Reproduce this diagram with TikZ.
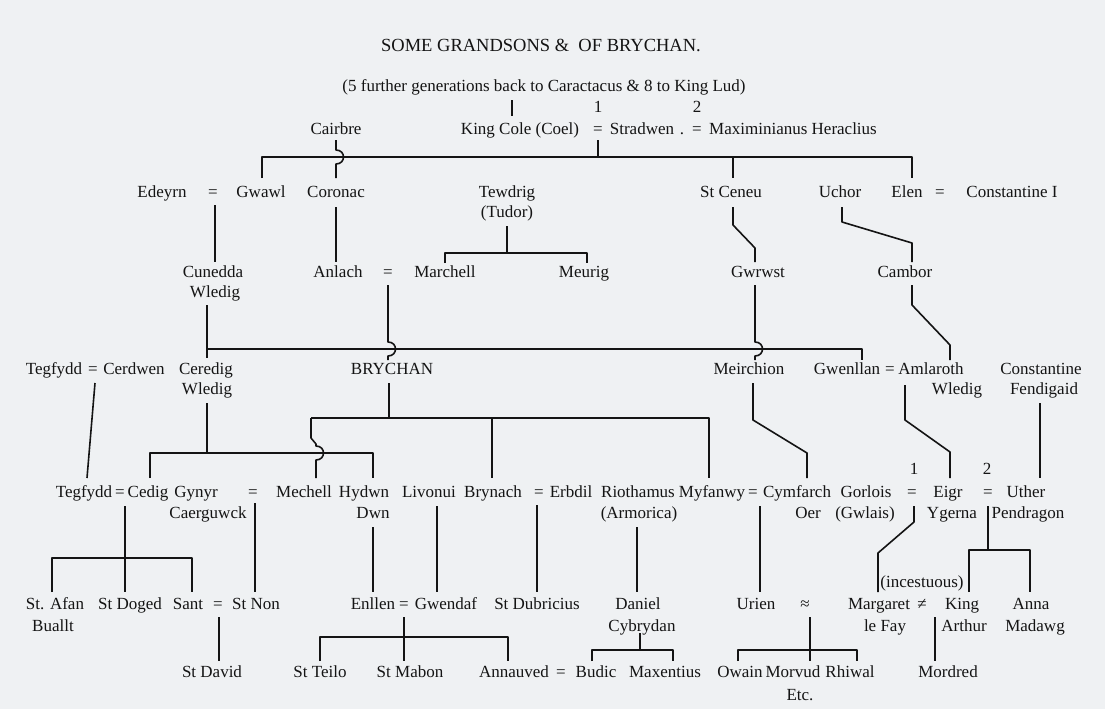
\documentclass[tikz,border=0pt]{standalone}
\usepackage{fontspec}
\setmainfont{Liberation Serif}
\newfontfamily\inkfont{Liberation Serif}
\definecolor{ink}{HTML}{141414}
\definecolor{bg}{HTML}{EFF1F3}
\begin{document}
\begin{tikzpicture}[x=1pt,y=-1pt]
\tikzset{
  nm/.style={font=\inkfont\fontsize{17}{20}\selectfont, inner sep=0pt, text height=11.5pt, text depth=3.5pt, text=ink},
  ttl/.style={font=\inkfont\fontsize{18.5}{22}\selectfont, inner sep=0pt, text=ink},
  ln/.style={draw=ink, line width=1.6pt, line join=round},
}
\fill[bg] (0,0) rectangle (1105,709);
\useasboundingbox (0,0) rectangle (1105,709);

% titles
\node[ttl] (title) at (541,45) {SOME GRANDSONS \& \ OF BRYCHAN.};
\node[nm] (sub) at (544,88) {(5 further generations back to Caractacus \& 8 to King Lud)};
\draw[ln] (512,100) -- (512,116);
\node[nm] (one0) at (598,108) {1};
\node[nm] (two0) at (697,108) {2};

% row 1
\node[nm] (cairbre) at (336,130) {Cairbre};
\node[nm] (kingcole) at (520,130) {King Cole (Coel)};
\node[nm] (eqA) at (598,130) {=};
\node[nm] (stradwen) at (642,130) {Stradwen};
\node[nm] (dot) at (682,130) {.};
\node[nm] (eqB) at (697,130) {=};
\node[nm] (maxim) at (793,130) {Maximinianus Heraclius};

\draw[ln] (598,140) -- (598,157);
\draw[ln] (262,178) -- (262,157) -- (912,157) -- (912,178);
\draw[ln] (733,157) -- (733,178);
\draw[ln] (336,140) -- (336,150) .. controls (346,150) and (346,164) .. (336,164) -- (336,178);

% row 2
\node[nm] (edeyrn) at (162,193) {Edeyrn};
\node[nm] (eqC) at (213,193) {=};
\node[nm] (gwawl) at (261,193) {Gwawl};
\node[nm] (coronac) at (336,193) {Coronac};
\node[nm] (tewdrig) at (507,193) {Tewdrig};
\node[nm] (tudor) at (507,213) {(Tudor)};
\node[nm] (ceneu) at (731,193) {St Ceneu};
\node[nm] (uchor) at (840,193) {Uchor};
\node[nm] (elen) at (907,193) {Elen};
\node[nm] (eqD) at (940,193) {=};
\node[nm] (constI) at (1012,193) {Constantine I};

\draw[ln] (215,205) -- (215,262);
\draw[ln] (336,207) -- (336,262);
\draw[ln] (507,226) -- (507,253);
\draw[ln] (445,263) -- (445,253) -- (587,253) -- (587,263);
\draw[ln] (733,207) -- (733,225) -- (755,248) -- (755,262);
\draw[ln] (842,207) -- (842,222) -- (912,243) -- (912,262);

% row 3
\node[nm] (cunedda) at (213,273) {Cunedda};
\node[nm] (wledigA) at (215,293) {Wledig};
\node[nm] (anlach) at (338,273) {Anlach};
\node[nm] (eqE) at (388,273) {=};
\node[nm] (marchell) at (445,273) {Marchell};
\node[nm] (meurig) at (584,273) {Meurig};
\node[nm] (gwrwst) at (758,273) {Gwrwst};
\node[nm] (cambor) at (905,273) {Cambor};

\draw[ln] (207,305) -- (207,358);
\draw[ln] (207,349) -- (862,349) -- (862,360);
\draw[ln] (388,285) -- (388,342) .. controls (398,342) and (398,356) .. (388,356) -- (388,360);
\draw[ln] (755,285) -- (755,342) .. controls (765,342) and (765,356) .. (755,356) -- (755,360);
\draw[ln] (912,285) -- (912,305) -- (950,345) -- (950,360);

% row 4
\node[nm] (tegfyddA) at (54,370) {Tegfydd};
\node[nm] (eqF) at (93,370) {=};
\node[nm] (cerdwen) at (134,370) {Cerdwen};
\node[nm] (ceredig) at (206,370) {Ceredig};
\node[nm] (wledigB) at (207,390) {Wledig};
\node[nm] (brychan) at (392,370) {BRYCHAN};
\node[nm] (meirchion) at (749,370) {Meirchion};
\node[nm] (gwenllan) at (847,370) {Gwenllan};
\node[nm] (eqG) at (890,370) {=};
\node[nm] (amlaroth) at (931,370) {Amlaroth};
\node[nm] (wledigC) at (957,390) {Wledig};
\node[nm] (constF) at (1041,370) {Constantine};
\node[nm] (fendigaid) at (1044,390) {Fendigaid};

\draw[ln] (95,383) -- (87,478);
\draw[ln] (207,403) -- (207,453);
\draw[ln] (150,478) -- (150,453) -- (373,453) -- (373,478);
\draw[ln] (389,383) -- (389,418);
\draw[ln] (311,418) -- (709,418) -- (709,478);
\draw[ln] (311,418) -- (311,438) -- (316,444) -- (316,446) .. controls (326,446) and (326,460) .. (316,460) -- (316,478);
\draw[ln] (492,418) -- (492,478);
\draw[ln] (753,383) -- (753,420) -- (807,453) -- (807,478);
\draw[ln] (905,385) -- (905,420) -- (950,452) -- (950,478);
\draw[ln] (1040,403) -- (1040,478);

% row 5
\node[nm] (one1) at (914,470) {1};
\node[nm] (two1) at (987,470) {2};
\node[nm] (tegfyddB) at (84,493) {Tegfydd};
\node[nm] (eqH) at (120,493) {=};
\node[nm] (cedig) at (148,493) {Cedig};
\node[nm] (gynyr) at (196,493) {Gynyr};
\node[nm] (caerguwck) at (208,514) {Caerguwck};
\node[nm] (eqI) at (253,493) {=};
\node[nm] (mechell) at (304,493) {Mechell};
\node[nm] (hydwn) at (364,493) {Hydwn};
\node[nm] (dwn) at (373,514) {Dwn};
\node[nm] (livonui) at (429,493) {Livonui};
\node[nm] (brynach) at (493,493) {Brynach};
\node[nm] (eqJ) at (539,493) {=};
\node[nm] (erbdil) at (571,493) {Erbdil};
\node[nm] (riothamus) at (638,493) {Riothamus};
\node[nm] (armorica) at (639,514) {(Armorica)};
\node[nm] (myfanwy) at (712,493) {Myfanwy};
\node[nm] (eqK) at (753,493) {=};
\node[nm] (cymfarch) at (797,493) {Cymfarch};
\node[nm] (oer) at (808,514) {Oer};
\node[nm] (gorlois) at (866,493) {Gorlois};
\node[nm] (gwlais) at (865,514) {(Gwlais)};
\node[nm] (eqL) at (912,493) {=};
\node[nm] (eigr) at (948,493) {Eigr};
\node[nm] (ygerna) at (952,514) {Ygerna};
\node[nm] (eqM) at (988,493) {=};
\node[nm] (uther) at (1026,493) {Uther};
\node[nm] (pendragon) at (1028,514) {Pendragon};

\draw[ln] (125,506) -- (125,592);
\draw[ln] (52,592) -- (52,558) -- (192,558) -- (192,592);
\draw[ln] (255,503) -- (255,592);
\draw[ln] (373,527) -- (373,592);
\draw[ln] (437,506) -- (437,592);
\draw[ln] (537,505) -- (537,592);
\draw[ln] (637,527) -- (637,592);
\draw[ln] (760,506) -- (760,592);
\draw[ln] (914,506) -- (914,522) -- (878,553) -- (878,592);
\draw[ln] (988,506) -- (988,550);
\draw[ln] (969,592) -- (969,550) -- (1030,550) -- (1030,592);

% row 6
\node[nm] (stafan) at (55,605) {St. Afan};
\node[nm] (buallt) at (53,627) {Buallt};
\node[nm] (stdoged) at (130,605) {St Doged};
\node[nm] (sant) at (188,605) {Sant};
\node[nm] (eqN) at (218,605) {=};
\node[nm] (stnon) at (256,605) {St Non};
\node[nm] (enllen) at (373,605) {Enllen};
\node[nm] (eqO) at (404,605) {=};
\node[nm] (gwendaf) at (446,605) {Gwendaf};
\node[nm] (dubricius) at (537,605) {St Dubricius};
\node[nm] (daniel) at (638,605) {Daniel};
\node[nm] (cybrydan) at (642,627) {Cybrydan};
\node[nm] (urien) at (756,605) {Urien};
\node[nm] (approx) at (805,605) {≈};
\node[nm] (incest) at (922,583) {(incestuous)};
\node[nm] (margaret) at (879,605) {Margaret};
\node[nm] (lefay) at (885,627) {le Fay};
\node[nm] (neq) at (922,605) {≠};
\node[nm] (king) at (962,605) {King};
\node[nm] (arthur) at (964,627) {Arthur};
\node[nm] (anna) at (1031,605) {Anna};
\node[nm] (madawg) at (1035,627) {Madawg};

\draw[ln] (219,617) -- (219,661);
\draw[ln] (404,617) -- (404,661);
\draw[ln] (320,661) -- (320,637) -- (508,637) -- (508,661);
\draw[ln] (640,633) -- (640,650);
\draw[ln] (592,661) -- (592,650) -- (673,650) -- (673,661);
\draw[ln] (810,617) -- (810,661);
\draw[ln] (738,661) -- (738,650) -- (857,650) -- (857,661);
\draw[ln] (935,617) -- (935,661);

% row 7
\node[nm] (stdavid) at (212,673) {St David};
\node[nm] (stteilo) at (320,673) {St Teilo};
\node[nm] (stmabon) at (410,673) {St Mabon};
\node[nm] (annauved) at (514,673) {Annauved};
\node[nm] (eqP) at (561,673) {=};
\node[nm] (budic) at (596,673) {Budic};
\node[nm] (maxentius) at (665,673) {Maxentius};
\node[nm] (owain) at (740,673) {Owain};
\node[nm] (morvud) at (793,673) {Morvud};
\node[nm] (rhiwal) at (850,673) {Rhiwal};
\node[nm] (etc) at (800,696) {Etc.};
\node[nm] (mordred) at (948,673) {Mordred};
\end{tikzpicture}
\end{document}
